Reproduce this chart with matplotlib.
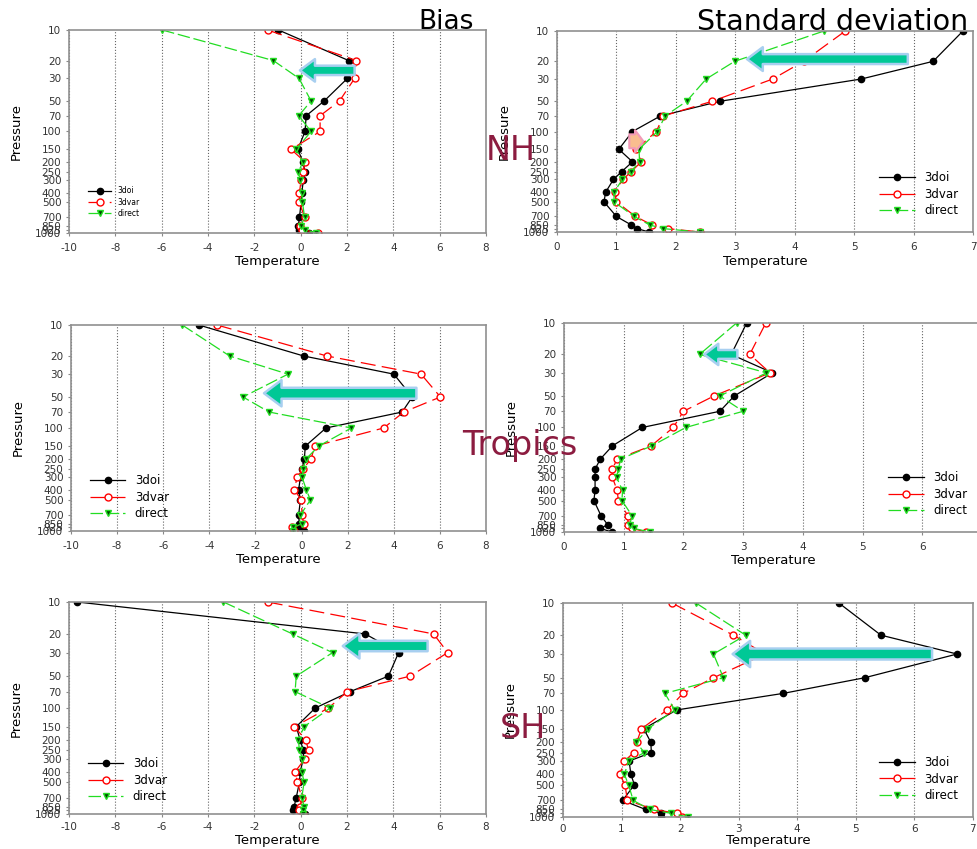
import matplotlib
matplotlib.use("Agg")
import matplotlib.pyplot as plt
from matplotlib.patches import FancyArrowPatch
from matplotlib.ticker import FixedLocator, NullLocator

# ── Data ───────────────────────────────────────────────────
levels = [10, 20, 30, 50, 70, 100, 150, 200, 250, 300, 400, 500, 700, 850, 925, 1000]
level_labels = ["10", "20", "30", "50", "70", "100", "150", "200", "250", "300",
                "400", "500", "700", "850", "925", "1000"]

nh_bias_3doi = [-0.96, 2.07, 2.02, 1.02, 0.24, 0.19, -0.12, 0.10, 0.19, 0.12, 0.05, 0.02, -0.05, -0.10, -0.05, 0.38]
nh_bias_3dvar = [-1.43, 2.40, 2.33, 1.68, 0.84, 0.84, -0.41, 0.19, 0.10, 0.02, -0.05, -0.05, 0.17, -0.02, 0.05, 0.74]
nh_bias_direct = [-5.98, -1.18, -0.07, 0.45, -0.08, 0.45, -0.19, 0.10, -0.10, -0.02, 0.05, 0.08, 0.17, 0.02, 0.20, 0.67]

nh_std_3doi = [6.83, 6.33, 5.12, 2.74, 1.74, 1.27, 1.04, 1.27, 1.09, 0.95, 0.82, 0.79, 1.00, 1.25, 1.35, 1.55]
nh_std_3dvar = [4.85, 4.15, 3.63, 2.61, 1.79, 1.67, 1.33, 1.42, 1.25, 1.11, 0.97, 1.00, 1.32, 1.60, 1.87, 2.41]
nh_std_direct = [4.49, 2.99, 2.51, 2.18, 1.82, 1.69, 1.38, 1.39, 1.24, 1.10, 0.96, 0.96, 1.30, 1.56, 1.79, 2.40]

tr_bias_3doi = [-4.46, 0.09, 4.00, 4.80, 4.36, 1.06, 0.16, 0.12, 0.02, -0.05, -0.13, -0.05, -0.13, -0.10, -0.10, 0.12]
tr_bias_3dvar = [-3.67, 1.10, 5.18, 6.02, 4.43, 3.56, 0.57, 0.41, 0.06, -0.20, -0.31, -0.01, 0.02, 0.09, -0.42, -0.34]
tr_bias_direct = [-5.18, -3.12, -0.59, -2.54, -1.41, 2.16, 0.74, 0.19, 0.06, 0.02, 0.21, 0.38, -0.05, 0.02, -0.37, -0.39]

tr_std_3doi = [3.06, 2.80, 3.49, 2.85, 2.61, 1.31, 0.81, 0.61, 0.52, 0.52, 0.52, 0.50, 0.62, 0.73, 0.61, 0.80]
tr_std_3dvar = [3.38, 3.11, 3.45, 2.51, 2.00, 1.83, 1.46, 0.89, 0.81, 0.81, 0.89, 0.91, 1.07, 1.07, 1.14, 1.38]
tr_std_direct = [2.89, 2.27, 3.39, 2.61, 3.00, 2.04, 1.47, 0.95, 0.91, 0.88, 0.98, 0.97, 1.14, 1.10, 1.17, 1.44]

sh_bias_3doi = [-9.64, 2.79, 4.23, 3.79, 2.14, 0.63, -0.19, -0.02, 0.12, 0.12, -0.02, -0.05, -0.19, -0.28, -0.31, 0.19]
sh_bias_3dvar = [-1.42, 5.74, 6.35, 4.73, 2.02, 1.20, -0.27, 0.22, 0.34, 0.19, -0.24, -0.14, 0.05, -0.02, -0.07, 0.09]
sh_bias_direct = [-3.33, -0.35, 1.38, -0.19, -0.24, 1.27, 0.15, -0.10, -0.05, 0.08, 0.05, 0.15, 0.05, 0.15, 0.12, 0.12]

sh_std_3doi = [4.71, 5.43, 6.73, 5.15, 3.76, 1.94, 1.38, 1.50, 1.51, 1.13, 1.16, 1.22, 1.02, 1.41, 1.68, 1.67]
sh_std_3dvar = [1.86, 2.91, 3.45, 2.57, 2.05, 1.78, 1.34, 1.26, 1.21, 1.05, 0.97, 1.06, 1.10, 1.56, 1.94, 2.04]
sh_std_direct = [2.27, 3.12, 2.57, 2.74, 1.74, 1.91, 1.45, 1.25, 1.39, 1.12, 1.05, 1.12, 1.20, 1.48, 1.85, 2.14]

series_names = ["3doi", "3dvar", "direct"]

TEAL = "#00c896"
TEAL_EDGE = "#a8cff0"
REGION_COLOR = "#8c1c40"


def draw_panel(fig, rect, s_3doi, s_3dvar, s_direct, xlim, xticks, legend_loc,
               legend_size, legend_anchor, xpad=5, xlabelpad=2):
    ax = fig.add_axes(rect)
    ax.plot(s_3doi, levels, color="black", lw=0.9, marker="o", ms=4.5,
            mfc="black", mec="black", label=series_names[0])
    ax.plot(s_3dvar, levels, color="red", lw=0.9, ls=(0, (12, 5)), marker="o",
            ms=5, mfc="white", mec="red", label=series_names[1])
    ax.plot(s_direct, levels, color="#22dd22", lw=0.9, ls=(0, (10, 3)), marker="v",
            ms=4.5, mfc="#004400", mec="#22dd22", label=series_names[2])

    ax.set_yscale("log")
    ax.set_ylim(1000, 10)
    ax.yaxis.set_major_locator(FixedLocator(levels))
    ax.yaxis.set_minor_locator(NullLocator())
    ax.set_yticklabels(level_labels)
    ax.set_xlim(*xlim)
    ax.set_xticks(xticks)
    ax.set_xticklabels([str(t) for t in xticks])
    ax.tick_params(labelsize=7.5, labelcolor="#333333", length=2, color="#888888")
    ax.tick_params(axis="x", pad=xpad)
    ax.grid(axis="x", linestyle=":", color="#666666", lw=0.8)
    for sp in ax.spines.values():
        sp.set_color("#909090")
        sp.set_linewidth(1.2)
    ax.set_xlabel("Temperature", fontsize=9.5, labelpad=xlabelpad)
    ax.set_ylabel("Pressure", fontsize=9.5, labelpad=9)
    ax.legend(loc=legend_loc, bbox_to_anchor=legend_anchor, frameon=False,
              fontsize=legend_size, handlelength=3, labelspacing=0.3)
    return ax


def add_arrow(ax, tail, tip, scale=1.0):
    arrow = FancyArrowPatch(
        tail, tip,
        arrowstyle=f"simple,head_length={12 * scale},head_width={18 * scale},"
                   f"tail_width={7.5 * scale}",
        mutation_scale=1, fc=TEAL, ec=TEAL_EDGE, lw=1.8, zorder=5)
    ax.add_patch(arrow)


fig = plt.figure(figsize=(9.77, 8.49), dpi=100)

bias_ticks = list(range(-10, 9, 2))

ax1 = draw_panel(fig, [0.0706, 0.7256, 0.4268, 0.2391],
                 nh_bias_3doi, nh_bias_3dvar, nh_bias_direct,
                 (-10, 8), bias_ticks, "lower left", 5.5, (0.03, 0.04))
ax2 = draw_panel(fig, [0.5701, 0.7267, 0.4258, 0.2367],
                 nh_std_3doi, nh_std_3dvar, nh_std_direct,
                 (0, 7), list(range(0, 8)), "lower right", 8.5, (0.99, 0.02))
ax3 = draw_panel(fig, [0.0727, 0.3746, 0.4248, 0.2426],
                 tr_bias_3doi, tr_bias_3dvar, tr_bias_direct,
                 (-10, 8), bias_ticks, "lower left", 8.5, (0.02, 0.0))
ax4 = draw_panel(fig, [0.5773, 0.3734, 0.4278, 0.2462],
                 tr_std_3doi, tr_std_3dvar, tr_std_direct,
                 (0, 7), list(range(0, 7)), "lower right", 8.5, (0.99, 0.02))
ax5 = draw_panel(fig, [0.0706, 0.0412, 0.4268, 0.2497],
                 sh_bias_3doi, sh_bias_3dvar, sh_bias_direct,
                 (-10, 8), bias_ticks, "lower left", 8.5, (0.02, 0.0),
                 xpad=4, xlabelpad=1)
ax6 = draw_panel(fig, [0.5762, 0.0377, 0.4196, 0.2521],
                 sh_std_3doi, sh_std_3dvar, sh_std_direct,
                 (0, 7), list(range(0, 8)), "lower right", 8.5, (0.99, 0.02),
                 xpad=3, xlabelpad=0)

# Highlight arrows
add_arrow(ax1, (2.45, 25), (-0.15, 25), 0.9)
add_arrow(ax2, (5.95, 19), (3.15, 19), 0.95)
add_arrow(ax3, (5.1, 46), (-1.75, 46), 1.05)
add_arrow(ax4, (2.95, 20), (2.3, 20), 0.85)
add_arrow(ax5, (5.6, 26), (1.7, 26), 1.0)
add_arrow(ax6, (6.35, 30), (2.85, 30), 1.05)

pink = FancyArrowPatch((1.17, 125), (1.5, 125),
                       arrowstyle="simple,head_length=6,head_width=16,tail_width=10",
                       mutation_scale=1, fc="#f9bd8f", ec="#f29ab8", lw=1.5, zorder=6)
ax2.add_patch(pink)

# Titles and region labels
fig.text(418 / 977, 1 - 22 / 849, "Bias", fontsize=19, va="center", ha="left")
fig.text(697 / 977, 1 - 22 / 849, "Standard deviation", fontsize=20.5, va="center",
         ha="left")
fig.text(486 / 977, 1 - 151 / 849, "NH", fontsize=24, color=REGION_COLOR,
         va="center", ha="left")
fig.text(462 / 977, 1 - 446 / 849, "Tropics", fontsize=24, color=REGION_COLOR,
         va="center", ha="left")
fig.text(500 / 977, 1 - 728 / 849, "SH", fontsize=24, color=REGION_COLOR,
         va="center", ha="left")

fig.savefig("out.png", dpi=100)
